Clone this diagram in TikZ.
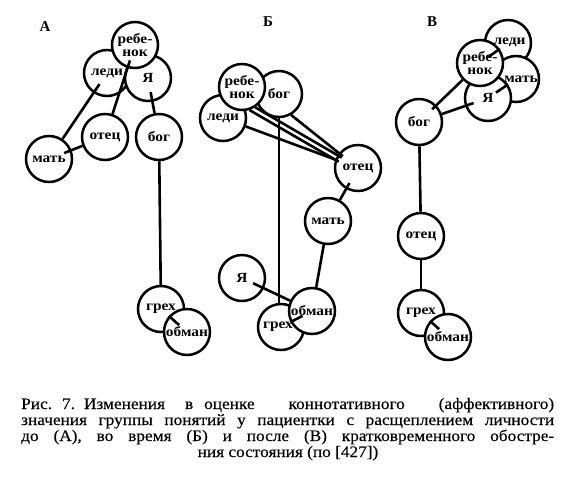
\documentclass[tikz,border=0pt]{standalone}
\usepackage{fontspec}
\setmainfont{Liberation Serif}
\newfontfamily\lblfont{Liberation Serif}[FakeStretch=1.1]
\newfontfamily\capfont{Liberation Serif}[FakeStretch=1.08,FakeBold=0.3]
\tikzset{
  cnode/.style={circle, draw, fill=white, line width=2.5pt, minimum size=46pt,
    inner sep=0pt, align=center, font=\lblfont\bfseries\fontsize{14}{12.5}\selectfont},
  link/.style={line width=2.6pt},
  panel/.style={inner sep=0pt, font=\bfseries\fontsize{15}{15}\selectfont},
  capline/.style={inner sep=0pt, font=\capfont\fontsize{16}{16}\selectfont}
}
\begin{document}
\begin{tikzpicture}[x=1pt,y=-1pt]
\useasboundingbox (0,0) rectangle (568,480);

% ---------- Panel A ----------
\node[panel] (labA) at (45,27) {А};
\node[cnode] (Amat) at (49,159) {мать};
\node[cnode] (Aotec) at (105,137) {отец};
\node[cnode] (Abog) at (159,137) {бог};
\node[cnode] (Aledi) at (107,73) {леди};
\node[cnode] (Aya) at (148,78) {Я};
\node[cnode] (Areb) at (135,45) {ребе-\\нок};
\node[cnode] (Agreh) at (161,309) {\raisebox{3pt}{грех}};
\node[cnode] (Aobman) at (187,332) {обман};

\draw[link, shorten <=-11pt] (Aledi) -- (Amat);
\draw[link, shorten <=-8pt] (Areb) -- (Aotec);
\draw[link, shorten >=-8pt] (Aotec) -- (Amat);
\draw[link, shorten <=-10pt] (Aya) -- (Abog);
\draw[link] (Abog) -- (Agreh);
\draw[link] (Agreh) -- (Aobman);

% ---------- Panel B (Б) ----------
\node[panel] (labB) at (268,22) {Б};
\node[cnode] (Bledi) at (223,118) {леди};
\node[cnode] (Bbog) at (279,94) {бог};
\node[cnode] (Breb) at (242,87) {ребе-\\нок};
\node[cnode] (Botec) at (358,168) {отец};
\node[cnode] (Bmat) at (328,221) {мать};
\node[cnode] (Bya) at (242,278) {Я};
\node[cnode] (Bgreh) at (281,327) {\raisebox{-6pt}{грех\hspace*{6pt}}};
\node[cnode] (Bobman) at (312,311) {обман};

\draw[link] (Bledi) -- (Botec);
\draw[link, shorten >=-4pt] (Breb.-72) -- (Botec.160);
\draw[link, shorten >=-5pt] (Breb.-57) -- (Botec.148);
\draw[link, shorten >=-5pt] (Bbog.-60) -- (Botec.142);
\draw[link] (Bbog.south) -- (Bbog.south |- Bgreh.north);
\draw[link, shorten <=-12pt] (Bya) -- (Bobman);
\draw[link] (Bmat) -- (Bobman);
\draw[link, shorten <=-7pt] (Botec) -- (Bmat);
\draw[link] (Bgreh) -- (Bobman);

% ---------- Panel C (В) ----------
\node[panel] (labC) at (432,22) {В};
\node[cnode] (Vledi) at (508,43) {\raisebox{4pt}{\hspace*{3pt}леди}};
\node[cnode] (Vmat) at (516,79) {\hspace*{10pt}мать};
\node[cnode] (Vya) at (488,98) {\raisebox{-3pt}{Я}};
\node[cnode] (Vreb) at (480,63) {ребе-\\нок};
\node[cnode] (Vbog) at (419,122) {бог};
\node[cnode] (Votec) at (421,236) {отец};
\node[cnode] (Vgreh) at (421,313) {\raisebox{3pt}{грех}};
\node[cnode] (Vobman) at (448,337) {обман};

\draw[link, shorten >=-6pt] (Vreb) -- (Vbog);
\draw[link, shorten <=-9pt] (Vya) -- (Vbog);
\draw[link] (Vreb) -- (Vledi);
\draw[link] (Vya) -- (Vmat);
\draw[link] (Vbog) -- (Votec);
\draw[link] (Votec) -- (Vgreh);
\draw[link] (Vgreh) -- (Vobman);

% ---------- Caption ----------
\node[capline, anchor=base west] (cap1) at (21,409)
  {\makebox[533pt][s]{\hbox{Рис.\kern10pt 7.\kern9pt Изменения\kern20pt в\kern11pt оценке} коннотативного (аффективного)}};
\node[capline, anchor=base west] (cap2) at (21,425)
  {\makebox[533pt][s]{значения группы понятий у пациентки с расщеплением личности}};
\node[capline, anchor=base west] (cap3) at (21,441)
  {\makebox[533pt][s]{до (А), во время (Б) и после (В) кратковременного обостре-}};
\node[capline, anchor=base] (cap4) at (288,457)
  {ния состояния (по [427])};
\end{tikzpicture}
\end{document}
